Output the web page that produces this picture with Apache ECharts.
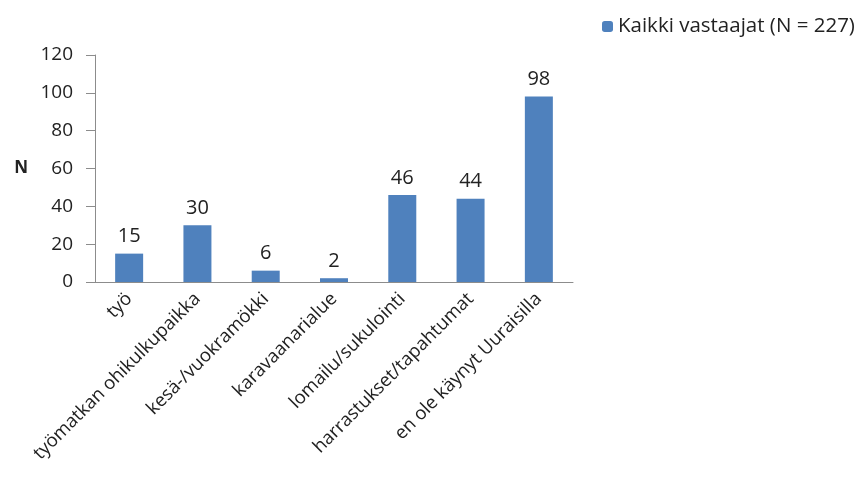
<!DOCTYPE html>
<html>
<head>
<meta charset="utf-8">
<script src="https://cdn.jsdelivr.net/npm/echarts@6/dist/echarts.min.js"></script>
<style>
  html, body { margin: 0; padding: 0; background: #fff; }
  #chart { width: 868px; height: 501px; }
</style>
</head>
<body>
<div id="chart"></div>
<script>
    var categories = [
        "työ",
        "työmatkan ohikulkupaikka",
        "kesä-/vuokramökki",
        "karavaanarialue",
        "lomailu/sukulointi",
        "harrastukset/tapahtumat",
        "en ole käynyt Uuraisilla"
    ];
    var values = [15, 30, 6, 2, 46, 44, 98];
    var seriesName = "Kaikki vastaajat (N = 227)";

    var font = "'Open Sans', 'DejaVu Sans', sans-serif";
    var myChart = echarts.init(document.getElementById("chart"));

    var option = {
        animation: false,
        textStyle: { fontFamily: font },
        legend: {
            data: [seriesName],
            left: 597,
            top: 11,
            itemWidth: 11,
            itemHeight: 11,
            itemGap: 4,
            textStyle: { fontSize: 20.5, color: "#222", fontFamily: font }
        },
        grid: { left: 95, right: 295, top: 55, bottom: 219 },
        xAxis: {
            type: "category",
            data: categories,
            axisLine: { lineStyle: { color: "#8c8c8c" } },
            axisTick: { alignWithLabel: false, length: 8, lineStyle: { color: "#8c8c8c" } },
            axisLabel: {
                rotate: 45,
                interval: 0,
                margin: 14,
                fontSize: 18.5,
                color: "#222"
            }
        },
        yAxis: {
            type: "value",
            min: 0,
            max: 120,
            interval: 20,
            name: "N",
            nameLocation: "middle",
            nameRotate: 0,
            nameGap: 67,
            nameTextStyle: { fontSize: 17, color: "#222", fontWeight: "bold" },
            axisLine: { show: true, lineStyle: { color: "#8c8c8c" } },
            axisTick: { show: true, length: 9, lineStyle: { color: "#8c8c8c" } },
            splitLine: { show: false },
            axisLabel: { fontSize: 19, color: "#222", margin: 22 }
        },
        series: [{
            name: seriesName,
            type: "bar",
            data: values,
            barWidth: "41%",
            itemStyle: { color: "#4f81bd" },
            label: {
                show: true,
                position: "top",
                fontSize: 20,
                color: "#222",
                distance: 7
            }
        }]
    };

    myChart.setOption(option);
</script>
</body>
</html>
